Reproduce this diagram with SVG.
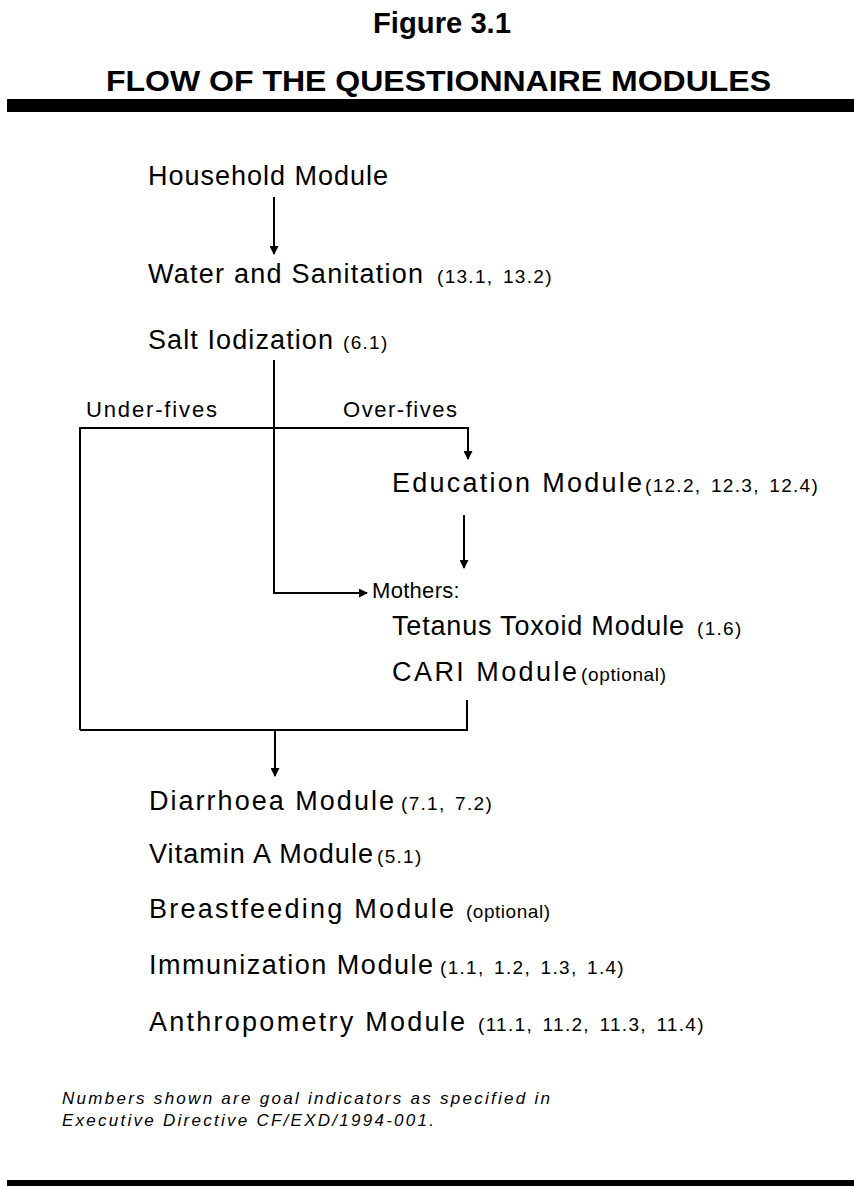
<svg xmlns="http://www.w3.org/2000/svg" width="854" height="1186" viewBox="0 0 854 1186">
<style>
text{font-family:"Liberation Sans",Arial,sans-serif;fill:#000}
.t{font-weight:bold;font-size:29px}
.m{font-size:27px}
.s{font-size:19px;letter-spacing:1.3px;word-spacing:3px}
.o{font-size:19px}
.l{font-size:22px}
.f{font-size:17px;font-style:italic}
.c{fill:none;stroke:#000;stroke-width:2}
</style>
<defs>
<marker id="a" markerWidth="9" markerHeight="9" refX="8" refY="4.5" orient="auto" markerUnits="userSpaceOnUse"><path d="M0,0 L9,4.5 L0,9 z" fill="#000"/></marker>
</defs>
<g id="title">
<text class="t" x="373" y="33" textLength="138" lengthAdjust="spacingAndGlyphs">Figure 3.1</text>
<text class="t" x="106" y="91" textLength="665" lengthAdjust="spacingAndGlyphs">FLOW OF THE QUESTIONNAIRE MODULES</text>
<rect x="7" y="99" width="847" height="13" fill="#000"/>
</g>
<g id="household"><text class="m" x="148" y="185" textLength="240">Household Module</text></g>
<g id="water"><text class="m" x="148" y="283" textLength="275">Water and Sanitation</text><text class="s" x="437" y="283">(13.1, 13.2)</text></g>
<g id="salt"><text class="m" x="148" y="349" textLength="185">Salt Iodization</text><text class="s" x="343" y="349">(6.1)</text></g>
<g id="labels">
<text class="l" x="86" y="417" textLength="131">Under-fives</text>
<text class="l" x="343" y="417" textLength="114">Over-fives</text>
</g>
<g id="education"><text class="m" x="392" y="492" textLength="250">Education Module</text><text class="s" x="645" y="492">(12.2, 12.3, 12.4)</text></g>
<g id="mothers"><text class="l" x="372" y="598" font-size="20" letter-spacing="0.3">Mothers:</text></g>
<g id="tetanus"><text class="m" x="392" y="635" textLength="292">Tetanus Toxoid Module</text><text class="s" x="697" y="635">(1.6)</text></g>
<g id="cari"><text class="m" x="392" y="681" textLength="185">CARI Module</text><text class="o" x="581" y="681" textLength="85">(optional)</text></g>
<g id="diarrhoea"><text class="m" x="149" y="810" textLength="245">Diarrhoea Module</text><text class="s" x="401" y="810">(7.1, 7.2)</text></g>
<g id="vitamina"><text class="m" x="149" y="863" textLength="224">Vitamin A Module</text><text class="s" x="377" y="863">(5.1)</text></g>
<g id="breastfeeding"><text class="m" x="149" y="918" textLength="305">Breastfeeding Module</text><text class="o" x="466" y="918" textLength="84">(optional)</text></g>
<g id="immunization"><text class="m" x="149" y="974" textLength="284">Immunization Module</text><text class="s" x="440" y="974" letter-spacing="0.6" word-spacing="2">(1.1, 1.2, 1.3, 1.4)</text></g>
<g id="anthropometry"><text class="m" x="149" y="1031" textLength="316">Anthropometry Module</text><text class="s" x="478" y="1031">(11.1, 11.2, 11.3, 11.4)</text></g>
<g id="footnote">
<text class="f" x="62" y="1104" textLength="488">Numbers shown are goal indicators as specified in</text>
<text class="f" x="62" y="1126" textLength="372">Executive Directive CF/EXD/1994-001.</text>
<rect x="7" y="1180" width="847" height="6" fill="#000"/>
</g>
<g id="connectors">
<line class="c" x1="274" y1="197" x2="274" y2="254" marker-end="url(#a)"/>
<path class="c" d="M274,360 V593 H367" marker-end="url(#a)"/>
<path class="c" d="M80,730 V428 H468 V459" marker-end="url(#a)"/>
<line class="c" x1="464" y1="515" x2="464" y2="568" marker-end="url(#a)"/>
<path class="c" d="M467,700 V730 H80"/>
<line class="c" x1="275" y1="730" x2="275" y2="776" marker-end="url(#a)"/>
</g>
</svg>
